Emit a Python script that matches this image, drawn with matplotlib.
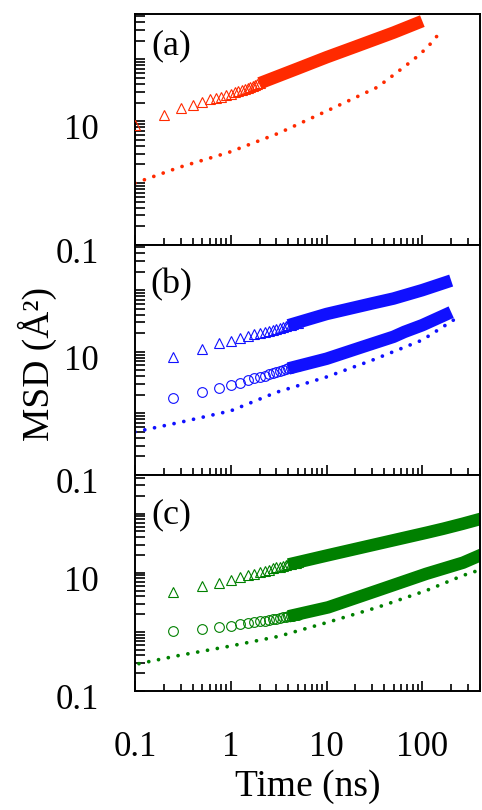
import matplotlib
matplotlib.use('Agg')
import matplotlib.pyplot as plt
from matplotlib.ticker import LogLocator, FixedLocator, FuncFormatter, NullFormatter
from matplotlib.transforms import ScaledTranslation

plt.rcParams['font.family'] = ['Liberation Serif', 'DejaVu Serif']

RED = '#ff2a00'
BLUE = '#1010ff'
GREEN = '#008000'

# (a) triangles, early single points and the dense tail
a_tri_t = [0.1, 0.2, 0.3, 0.4, 0.5, 0.6, 0.7, 0.8, 0.9, 1.0,
           1.1, 1.2, 1.3, 1.4, 1.5, 1.6, 1.7, 1.8, 1.9, 2.0]
a_tri_v = [8.6, 12.8, 16.3, 18.5, 20.4, 22.5, 23.5, 25.0, 26.3, 27.9,
           29.4, 30.9, 32.3, 33.6, 34.9, 36.1, 37.3, 38.4, 39.5, 40.7]
a_tri_tail_t = [2.0, 5.0, 10.0, 20.0, 50.0, 100.0]
a_tri_tail_v = [41.0, 71.0, 108.0, 160.0, 270.0, 415.0]
a_dot_t = [0.1, 0.29, 0.96, 3.16, 10.4, 34.0, 51.7, 81.6, 110.0, 130.0, 155.0]
a_dot_v = [1.0, 1.8, 3.15, 6.4, 15.0, 35.5, 58.0, 100.0, 150.0, 200.0, 280.0]

# (b)
b_early_t = [0.25, 0.5, 0.75, 1.0, 1.25, 1.5, 1.75, 2.0, 2.25, 2.5,
             2.75, 3.0, 3.25, 3.5, 3.75, 4.0, 4.25, 4.5, 4.75, 5.0]
b_tri_v = [8.3, 11.1, 13.7, 15.1, 16.5, 18.0, 19.2, 20.2, 21.1, 22.0,
           22.8, 23.6, 24.5, 25.3, 26.1, 26.9, 27.6, 28.3, 29.0, 29.7]
b_tri_tail_t = [4.0, 10.0, 30.0, 50.0, 100.0, 200.0]
b_tri_tail_v = [26.9, 41.0, 61.0, 73.0, 100.0, 143.0]
b_cir_v = [1.76, 2.2, 2.55, 2.9, 3.15, 3.45, 3.7, 3.9, 4.1, 4.3,
           4.5, 4.7, 4.9, 5.05, 5.2, 5.35, 5.5, 5.65, 5.8, 5.95]
b_cir_tail_t = [4.0, 10.0, 23.0, 50.0, 65.0, 100.0, 200.0]
b_cir_tail_v = [5.35, 7.7, 11.8, 17.5, 21.0, 27.0, 44.0]
b_dot_t = [0.1, 0.3, 1.0, 3.0, 10.0, 30.0, 100.0, 220.0]
b_dot_v = [0.5, 0.72, 1.1, 2.2, 3.9, 7.3, 15.5, 34.0]

# (c)
c_early_t = b_early_t
c_tri_v = [4.8, 5.9, 6.8, 7.5, 8.4, 9.0, 9.5, 10.3, 10.8, 11.3,
           11.8, 12.3, 12.7, 13.1, 13.5, 13.8, 14.1, 14.5, 14.8, 15.1]
c_tri_tail_t = [4.0, 10.4, 34.2, 112.0, 166.0, 266.0, 435.0]
c_tri_tail_v = [13.8, 19.8, 30.8, 47.8, 55.6, 67.6, 84.0]
c_cir_v = [1.02, 1.12, 1.2, 1.28, 1.36, 1.42, 1.46, 1.5, 1.55, 1.6,
           1.64, 1.68, 1.72, 1.76, 1.8, 1.83, 1.86, 1.89, 1.92, 1.95]
c_cir_tail_t = [4.0, 10.4, 34.0, 110.0, 266.0, 435.0]
c_cir_tail_v = [1.83, 2.6, 5.0, 9.6, 14.8, 20.9]
c_dot_t = [0.11, 0.29, 0.96, 3.16, 10.4, 34.0, 110.0, 266.0, 435.0]
c_dot_v = [0.29, 0.4, 0.57, 0.84, 1.46, 2.6, 5.0, 9.0, 11.7]

x_ticks = [0.1, 1, 10, 100]
y_ticks = [0.1, 10, 1000]


def fmt(v, pos):
	return '%g' % v


def style_axis(fig, ax, ylim, show_x):
	ax.set_xscale('log')
	ax.set_yscale('log')
	ax.set_xlim(0.1, 400)
	ax.set_ylim(*ylim)
	ax.xaxis.set_major_locator(FixedLocator(x_ticks))
	ax.xaxis.set_minor_locator(LogLocator(base=10, subs=range(2, 10)))
	ax.yaxis.set_major_locator(FixedLocator(y_ticks))
	ax.yaxis.set_minor_locator(LogLocator(base=10, subs=range(1, 10)))
	ax.yaxis.set_major_formatter(FuncFormatter(fmt))
	ax.yaxis.set_minor_formatter(NullFormatter())
	ax.xaxis.set_minor_formatter(NullFormatter())
	if show_x:
		ax.xaxis.set_major_formatter(FuncFormatter(fmt))
	else:
		ax.xaxis.set_major_formatter(NullFormatter())
	ax.tick_params(which='both', direction='in', top=False, right=False,
		width=1.2, labelsize=25)
	ax.tick_params(axis='x', which='major', length=7, pad=29)
	ax.tick_params(axis='x', which='minor', length=5)
	ax.tick_params(axis='y', which='major', length=7, pad=26)
	ax.tick_params(axis='y', which='minor', length=7)
	for s in ax.spines.values():
		s.set_linewidth(1.4)
	shift = ScaledTranslation(0, -4 / 72, fig.dpi_scale_trans)
	for lab in ax.get_yticklabels():
		lab.set_transform(lab.get_transform() + shift)


def draw_band(ax, t, v, early_t, early_v, color, marker):
	ax.plot(t, v, '-', color=color, lw=9, solid_capstyle='butt', zorder=2)
	ax.plot(early_t, early_v, linestyle='none', marker=marker, ms=7,
		mfc='none', mec=color, mew=0.8, zorder=3)


def draw_dots(ax, t, v, color):
	ax.plot(t, v, color=color, lw=2.7, linestyle=(0, (0.01, 2.65)),
		dash_capstyle='round', zorder=2)


def main():
	fig = plt.figure(figsize=(4.82, 8.10), dpi=100)
	left = 135 / 482
	width = 345 / 482
	ax_a = fig.add_axes([left, 1 - 245 / 810, width, 231 / 810])
	ax_b = fig.add_axes([left, 1 - 475 / 810, width, 230 / 810])
	ax_c = fig.add_axes([left, 1 - 691 / 810, width, 216 / 810])

	draw_band(ax_a, a_tri_tail_t, a_tri_tail_v, a_tri_t, a_tri_v, RED, '^')
	draw_dots(ax_a, a_dot_t, a_dot_v, RED)

	draw_band(ax_b, b_tri_tail_t, b_tri_tail_v, b_early_t, b_tri_v, BLUE, '^')
	draw_band(ax_b, b_cir_tail_t, b_cir_tail_v, b_early_t, b_cir_v, BLUE, 'o')
	draw_dots(ax_b, b_dot_t, b_dot_v, BLUE)

	draw_band(ax_c, c_tri_tail_t, c_tri_tail_v, c_early_t, c_tri_v, GREEN, '^')
	draw_band(ax_c, c_cir_tail_t, c_cir_tail_v, c_early_t, c_cir_v, GREEN, 'o')
	draw_dots(ax_c, c_dot_t, c_dot_v, GREEN)

	style_axis(fig, ax_a, (0.1, 540), False)
	style_axis(fig, ax_b, (0.1, 540), False)
	style_axis(fig, ax_c, (0.1, 450), True)

	ax_a.text(0.105, 0.862, '(a)', transform=ax_a.transAxes, fontsize=26,
		ha='center', va='center')
	ax_b.text(0.105, 0.826, '(b)', transform=ax_b.transAxes, fontsize=26,
		ha='center', va='center')
	ax_c.text(0.105, 0.815, '(c)', transform=ax_c.transAxes, fontsize=26,
		ha='center', va='center')

	fig.text(37 / 482, 1 - 364 / 810, 'MSD (Å²)', rotation=90,
		fontsize=27, ha='center', va='center')
	fig.text(308 / 482, 1 - 787 / 810, 'Time (ns)', fontsize=27,
		ha='center', va='center')

	fig.savefig('out.png', dpi=100)


if __name__ == '__main__':
	main()
